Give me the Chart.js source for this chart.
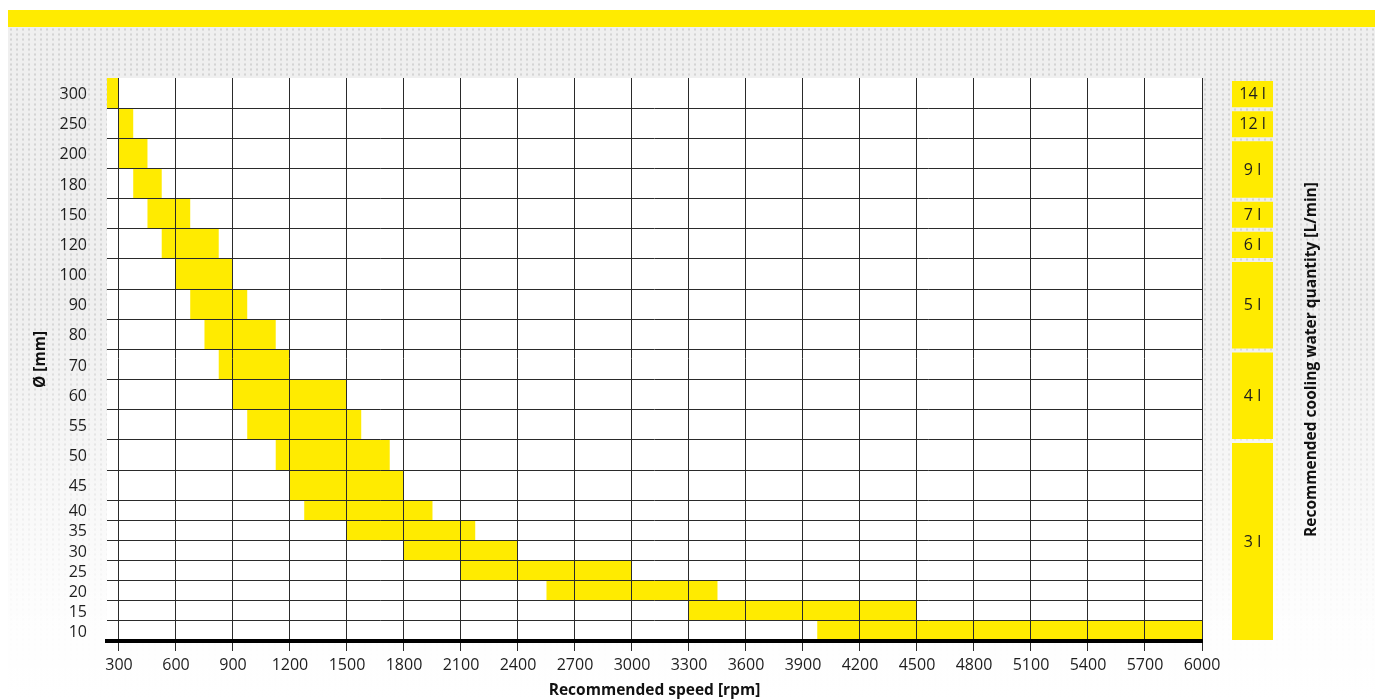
<!DOCTYPE html>
<html>
<head>
<meta charset="utf-8">
<script src="https://cdn.jsdelivr.net/npm/chart.js@4/dist/chart.umd.min.js"></script>
<style>
  html, body { margin: 0; padding: 0; width: 1375px; height: 700px; overflow: hidden; background: #ffffff; }
  #bg { position: absolute; left: 8px; top: 27px; width: 1367px; height: 673px;
        background-color: #efefef;
        background-image: radial-gradient(circle, #d4d4d4 0.9px, rgba(0,0,0,0) 1.4px);
        background-size: 6px 5px; }
  #fade { position: absolute; left: 8px; top: 27px; width: 1367px; height: 673px;
          background: linear-gradient(to bottom, rgba(255,255,255,0) 0%, rgba(255,255,255,0) 40%, rgba(255,255,255,0.92) 88%, #ffffff 100%); }
  #stripe { position: absolute; left: 8px; top: 10px; width: 1367px; height: 17px; background: #ffeb00; }
  #mainWrap { position: absolute; left: 0; top: 0; width: 1240px; height: 700px; }
  #waterWrap { position: absolute; left: 1215px; top: 0; width: 160px; height: 700px; }
</style>
</head>
<body>
<div id="bg"></div>
<div id="fade"></div>
<div id="stripe"></div>
<div id="mainWrap"><canvas id="main" width="1240" height="700"></canvas></div>
<div id="waterWrap"><canvas id="water" width="160" height="700"></canvas></div>
<script>
// ---------------- data ----------------
const diameters = [300, 250, 200, 180, 150, 120, 100, 90, 80, 70, 60, 55, 50, 45, 40, 35, 30, 25, 20, 15, 10];
const speedMin  = [225, 300, 300, 375, 450, 525, 600, 675, 750, 825, 900, 975, 1125, 1200, 1275, 1500, 1800, 2100, 2550, 3300, 3975];
const speedMax  = [300, 375, 450, 525, 675, 825, 900, 975, 1125, 1200, 1500, 1575, 1725, 1800, 1950, 2175, 2400, 3000, 3450, 4500, 6000];
const speedTicks = [300, 600, 900, 1200, 1500, 1800, 2100, 2400, 2700, 3000, 3300, 3600, 3900, 4200, 4500, 4800, 5100, 5400, 5700, 6000];
const waterLabels = ['14 l', '12 l', '9 l', '7 l', '6 l', '5 l', '4 l', '3 l'];
const waterFrom   = [300, 250, 200, 150, 120, 100, 70, 50];
const waterTo     = [300, 250, 180, 150, 120, 80, 55, 10];

// ---------------- layout of rows (small diameters use compact rows) ----------------
const rows = {};
let acc = 0;
for (let i = diameters.length - 1; i >= 0; i--) {
  const d = diameters[i];
  const span = d <= 40 ? 2 : 3;
  rows[d] = { lo: acc, hi: acc + span, mid: acc + span / 2 };
  acc += span;
}
const yMax = acc;
const boundaries = [];
for (let i = diameters.length - 1; i >= 1; i--) boundaries.push(rows[diameters[i]].hi);
const labelByMid = {};
diameters.forEach(d => { labelByMid[String(rows[d].mid)] = String(d); });

const YELLOW = '#ffeb00';
const GRID = '#2a2a2a';
const FONT = "'Open Sans', 'Noto Sans', sans-serif";

function rowData(filterFn) {
  const out = [];
  diameters.forEach((d, i) => {
    if (filterFn(d)) out.push({ y: rows[d].mid, x: [speedMin[i], speedMax[i]] });
  });
  return out;
}

const barCommon = {
  backgroundColor: YELLOW,
  borderWidth: 0,
  barThickness: 'flex',
  categoryPercentage: 1,
  barPercentage: 1,
  inflateAmount: 0,
  xAxisID: 'x',
  yAxisID: 'y'
};

new Chart(document.getElementById('main'), {
  type: 'bar',
  data: {
    datasets: [
      Object.assign({ label: 'wide', data: rowData(d => d > 40) }, barCommon),
      Object.assign({ label: 'compact', data: rowData(d => d <= 40) }, barCommon)
    ]
  },
  options: {
    indexAxis: 'y',
    responsive: false,
    animation: false,
    layout: { padding: { left: 28, top: 78, right: 38, bottom: 0 } },
    plugins: { legend: { display: false }, tooltip: { enabled: false } },
    scales: {
      x: {
        type: 'linear', position: 'bottom', min: 237, max: 6000, offset: false,
        afterBuildTicks: s => { s.ticks = speedTicks.map(v => ({ value: v })); },
        afterFit: s => { s.height = 59; s.paddingLeft = 0; s.paddingRight = 0; },
        grid: { color: GRID, lineWidth: 1, drawTicks: true, tickLength: 10, tickColor: GRID, z: 1, offset: false },
        border: { display: true, color: '#000000', width: 4, z: 2 },
        ticks: { callback: v => String(v), font: { family: FONT, size: 16 }, color: '#1e1e1e',
                 padding: 5, maxRotation: 0, autoSkip: false },
        title: { display: true, text: 'Recommended speed [rpm]', color: '#111111',
                 font: { family: FONT, size: 15.5, weight: 'bold' }, padding: { top: 0, bottom: 0 } }
      },
      y: {
        type: 'linear', position: 'left', min: 0, max: yMax, stacked: true, offset: false,
        afterBuildTicks: s => { s.ticks = diameters.map(d => ({ value: rows[d].mid })); },
        afterFit: s => { s.width = 79; s.paddingTop = 0; s.paddingBottom = 0; },
        grid: { display: false, offset: false },
        border: { display: false },
        ticks: { callback: v => labelByMid[String(v)], font: { family: FONT, size: 16 }, color: '#1e1e1e',
                 padding: 12, autoSkip: false, labelOffset: 1.5 },
        title: { display: true, text: 'Ø [mm]', color: '#111111',
                 font: { family: FONT, size: 15.5, weight: 'bold' }, padding: { top: 3, bottom: 3 } }
      },
      yg: {
        type: 'linear', position: 'left', min: 0, max: yMax, offset: false,
        afterBuildTicks: s => { s.ticks = boundaries.map(v => ({ value: v })); },
        afterFit: s => { s.width = 0; s.paddingTop = 0; s.paddingBottom = 0; },
        grid: { color: GRID, lineWidth: 1, drawTicks: false, z: 1, offset: false },
        border: { display: false },
        ticks: { display: false }
      }
    }
  },
  plugins: [{
    id: 'plotBg',
    beforeDraw(chart) {
      const a = chart.chartArea, ctx = chart.ctx;
      ctx.save();
      ctx.fillStyle = '#ffffff';
      ctx.fillRect(a.left, a.top, a.right - a.left, a.bottom - a.top);
      ctx.restore();
    }
  }]
});

// ---------------- cooling water column ----------------
new Chart(document.getElementById('water'), {
  type: 'bar',
  data: {
    labels: [''],
    datasets: waterLabels.map((lab, i) => ({
      label: lab,
      data: [[rows[waterTo[i]].lo, rows[waterFrom[i]].hi]],
      backgroundColor: YELLOW,
      borderColor: 'rgba(0,0,0,0)',
      borderWidth: { top: 3, bottom: 1, left: 0, right: 0 },
      borderSkipped: false,
      inflateAmount: 0,
      categoryPercentage: 1,
      barPercentage: 1
    }))
  },
  options: {
    responsive: false,
    animation: false,
    layout: { padding: { left: 17, right: 102, top: 78, bottom: 59 } },
    plugins: { legend: { display: false }, tooltip: { enabled: false } },
    scales: {
      x: { display: false, stacked: true },
      y: { display: false, min: 0, max: yMax }
    }
  },
  plugins: [{
    id: 'waterText',
    afterDatasetsDraw(chart) {
      const ctx = chart.ctx;
      ctx.save();
      ctx.font = '16px ' + FONT;
      ctx.fillStyle = '#1e1e1e';
      ctx.textAlign = 'center';
      ctx.textBaseline = 'middle';
      chart.data.datasets.forEach((ds, i) => {
        const el = chart.getDatasetMeta(i).data[0];
        ctx.fillText(ds.label, el.x, (el.y + el.base) / 2 + 1.5);
      });
      const a = chart.chartArea;
      ctx.translate(a.right + 39, (a.top + a.bottom) / 2);
      ctx.rotate(-Math.PI / 2);
      ctx.font = 'bold 15.5px ' + FONT;
      ctx.fillStyle = '#111111';
      ctx.fillText('Recommended cooling water quantity [L/min]', 0, 0);
      ctx.restore();
    }
  }]
});
</script>
</body>
</html>
